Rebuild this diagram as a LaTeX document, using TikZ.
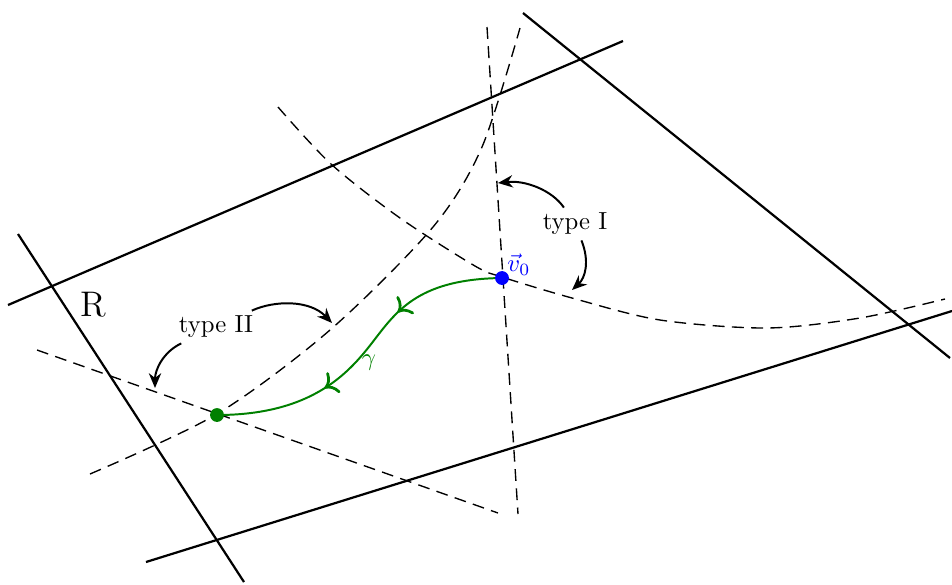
\documentclass[tikz,border=0pt]{standalone}
\usetikzlibrary{arrows.meta,decorations.markings}
\begin{document}
\begin{tikzpicture}[x=0.405pt,y=-0.405pt,
 wall/.style={line width=0.9pt},
 geo/.style={line width=0.55pt, dash pattern=on 4.8pt off 3pt},
 lbl/.style={inner sep=2pt},
 bendarrow/.style={line width=0.8pt,-{Stealth[length=6pt,width=5pt]}},
 dot/.style={circle, inner sep=0pt, minimum size=5.6pt},
 gammapath/.style={green!50!black, line width=0.8pt, postaction={decorate},
   decoration={markings, mark=at position 0.34 with {\arrow[scale=1.4]{>}}, mark=at position 0.66 with {\arrow[scale=1.4]{>}}}},
]
\useasboundingbox (0,0) rectangle (952,584);
% key points
\coordinate (v0) at (502,278);
\coordinate (g) at (217,415);
\coordinate (gm) at (375,339);
% walls
\draw[wall] (8,305) -- (623,41);
\draw[wall] (523,13) -- (950,358);
\draw[wall] (146,562) -- (952,311);
\draw[wall] (18,234) -- (244,582);
% geodesics
\draw[geo] (487,27) -- (518,514);
\draw[geo] (37,350) -- (498,513);
\draw[geo] plot[smooth] coordinates {(278,107) (331,164) (400,218) (475,266) (502,277) (572,298) (660,320) (767,328) (860,318) (945,299)};
\draw[geo] plot[smooth] coordinates {(90,474) (217,414) (330,330) (433,227) (482,147) (520,28)};
% labels
\node[lbl] (tI) at (575,224) {type I};
\node[lbl] (tII) at (216,327) {type II};
\node[font=\Large] (R) at (93,305) {R};
\node[text=green!50!black] (gl) at (369,363) {$\gamma$};
\node[text=blue] (vl) at (519,265) {$\vec{v}_0$};
% type arrows
\coordinate (aI1) at (498,183);
\coordinate (aI2) at (572,290);
\coordinate (aII1) at (332,323);
\coordinate (aII2) at (155,388);
\draw[bendarrow] (tI) .. controls (552,190) and (525,180) .. (aI1);
\draw[bendarrow] (tI) .. controls (590,262) and (585,278) .. (aI2);
\draw[bendarrow] (tII) .. controls (275,300) and (310,300) .. (aII1);
\draw[bendarrow] (tII) .. controls (163,352) and (155,370) .. (aII2);
% gamma
\draw[gammapath] (v0) .. controls (421,279) and (398,309) .. (gm) .. controls (352,369) and (316,415) .. (g);
% dots
\node[dot, fill=blue] (v0dot) at (v0) {};
\node[dot, fill=green!50!black] (gdot) at (g) {};
\end{tikzpicture}
\end{document}
